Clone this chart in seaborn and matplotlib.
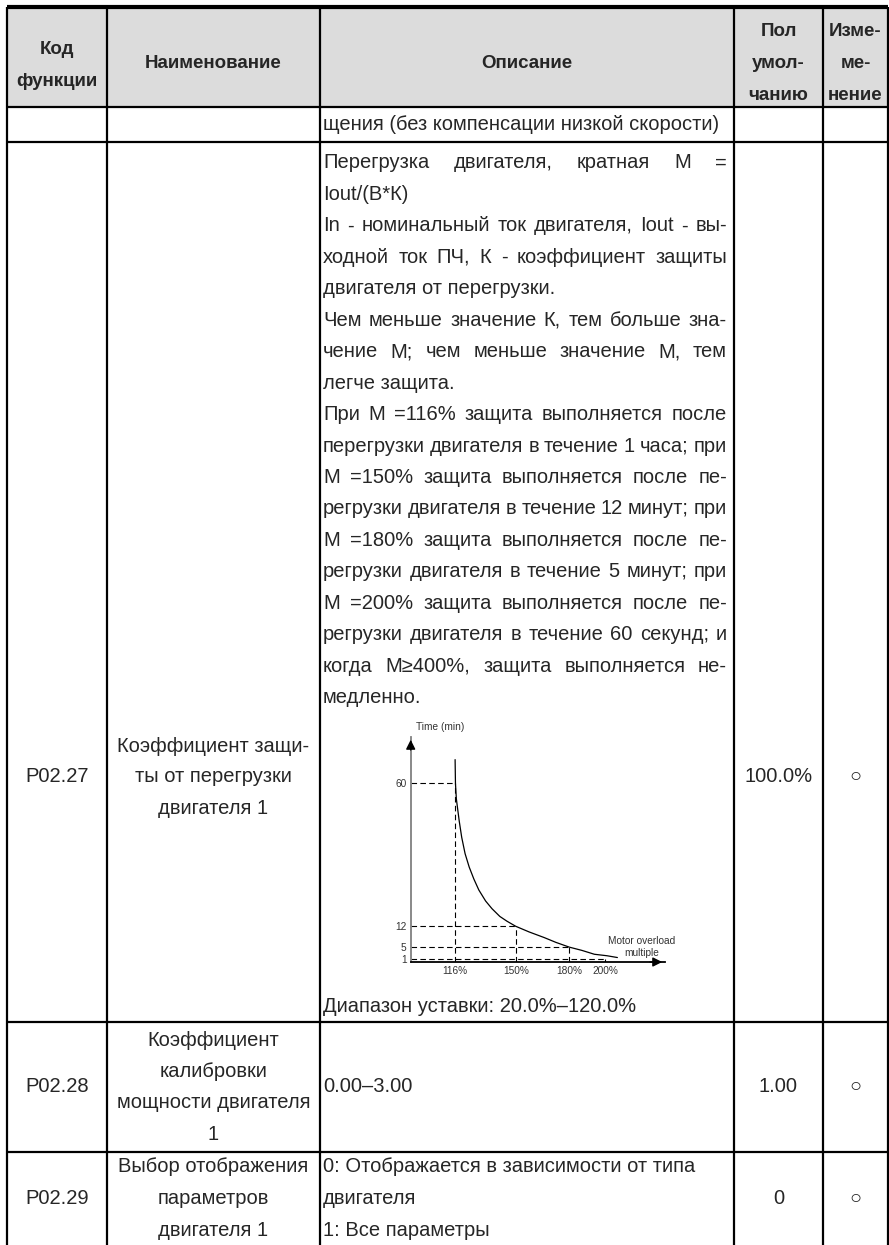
import matplotlib
matplotlib.use("Agg")
import matplotlib.pyplot as plt
import pandas as pd
import seaborn as sns

# --- data -------------------------------------------------------------
header = ["Код\nфункции", "Наименование", "Описание", "Пол\nумол-\nчанию", "Изме-\nме-\nнение"]

codes = ["P02.27", "P02.28", "P02.29"]
names = [["Коэффициент защи-", "ты от перегрузки", "двигателя 1"],
         ["Коэффициент", "калибровки", "мощности двигателя", "1"],
         ["Выбор отображения", "параметров", "двигателя 1"]]
defaults = ["100.0%", "1.00", "0"]
changes = ["○", "○", "○"]

carry_line = "щения (без компенсации низкой скорости)"
desc_p27 = [("Перегрузка двигателя, кратная М =", True),
            ("Iout/(В*К)", False),
            ("In - номинальный ток двигателя, Iout - вы-", True),
            ("ходной ток ПЧ, К - коэффициент защиты", True),
            ("двигателя от перегрузки.", False),
            ("Чем меньше значение К, тем больше зна-", True),
            ("чение М; чем меньше значение М, тем", True),
            ("легче защита.", False),
            ("При М =116% защита выполняется после", True),
            ("перегрузки двигателя в течение 1 часа; при", True),
            ("М =150% защита выполняется после пе-", True),
            ("регрузки двигателя в течение 12 минут; при", True),
            ("М =180% защита выполняется после пе-", True),
            ("регрузки двигателя в течение 5 минут; при", True),
            ("М =200% защита выполняется после пе-", True),
            ("регрузки двигателя в течение 60 секунд; и", True),
            ("когда М≥400%, защита выполняется не-", True),
            ("медленно.", False)]
range_p27 = "Диапазон уставки: 20.0%–120.0%"
desc_p28 = ["0.00–3.00"]
desc_p29 = ["0: Отображается в зависимости от типа", "двигателя", "1: Все параметры"]

# overload curve (multiple in %, time in min)
curve_mult = [116.0, 116.1, 116.2, 116.7, 118.3, 119.7, 121.6, 123.9, 126.5, 129.3,
              133.1, 136.7, 141.1, 145.1, 150.0, 157.5, 166.0, 172.5, 180.0, 187.1,
              194.1, 201.2, 207.0]
curve_time = [68.0, 64.0, 60.0, 54.8, 47.4, 41.9, 36.4, 31.9, 27.9, 24.2,
              20.5, 17.9, 15.3, 13.7, 12.0, 10.1, 8.2, 6.6, 5.0, 3.9,
              2.6, 2.1, 1.5]
mark_mult = [116, 150, 180, 200]
mark_time = [60, 12, 5, 1]
mult_labels = ["116%", "150%", "180%", "200%"]

# --- figure -----------------------------------------------------------
sns.set_theme(style="white")
plt.rcParams['font.family'] = ['Liberation Sans', 'DejaVu Sans']

W, H = 889, 1245
fig = plt.figure(figsize=(W / 100, H / 100), dpi=100)
ax = fig.add_axes([0, 0, 1, 1])
ax.set_xlim(0, W)
ax.set_ylim(H, 0)
ax.axis('off')
r = fig.canvas.get_renderer()

fs = 14.5
hfs = 13.5
lw = 1.6

cols = [7, 107, 320, 734, 823, 888]
xc = [(a + b) / 2 for a, b in zip(cols[:-1], cols[1:])]
x0, x1 = 323, 727

# header background + grid
ax.fill_between([cols[0], cols[-1]], 7, 107, color='#dcdcdc', lw=0)
ax.hlines(7, cols[0], cols[-1], color='black', lw=3)
for yy in [107, 142, 1022, 1152]:
    ax.hlines(yy, cols[0], cols[-1], color='black', lw=lw)
for xx in cols:
    ax.vlines(xx, 7, H, color='black', lw=lw)

# header text
head_y = [[49, 81], [64], [64], [32, 64, 96], [32, 64, 96]]
for i, h in enumerate(header):
    for line, yy in zip(h.split('\n'), head_y[i]):
        ax.text(xc[i], yy, line, ha='center', va='center', fontsize=hfs, fontweight='bold')

def body(x, y, s, ha='left'):
    ax.text(x, y, s, ha=ha, va='center', fontsize=fs)

def justify(y, s):
    words = s.split(' ')
    widths = []
    for w in words:
        t = ax.text(0, 0, w, fontsize=fs)
        widths.append(t.get_window_extent(r).width)
        t.remove()
    gap = (x1 - x0 - sum(widths)) / (len(words) - 1)
    x = x0
    for w, wd in zip(words, widths):
        body(x, y, w)
        x += wd + gap

body(x0, 125, carry_line)

# P02.27
for i, (s, just) in enumerate(desc_p27):
    y = 163 + 31.45 * i
    if just:
        justify(y, s)
    else:
        body(x0, y, s)
body(x0, 1007, range_p27)
body(xc[0], 777, codes[0], 'center')
for i, s in enumerate(names[0]):
    body(xc[1], 746 + 31 * i, s, 'center')
body(xc[3], 777, defaults[0], 'center')
body(xc[4], 777, changes[0], 'center')

# P02.28
body(xc[0], 1087, codes[1], 'center')
for i, s in enumerate(names[1]):
    body(xc[1], 1040 + 31.5 * i, s, 'center')
body(x0, 1087, desc_p28[0])
body(xc[3], 1087, defaults[1], 'center')
body(xc[4], 1087, changes[1], 'center')

# P02.29
body(xc[0], 1198, codes[2], 'center')
for i, s in enumerate(names[2]):
    body(xc[1], 1167 + 31.5 * i, s, 'center')
for i, s in enumerate(desc_p29):
    body(x0, 1167 + 31.5 * i, s)
body(xc[3], 1198, defaults[2], 'center')
body(xc[4], 1198, changes[2], 'center')

# --- embedded overload sketch ------------------------------------------
cx = fig.add_axes([410.7 / W, (H - 962) / H, (665 - 410.7) / W, (962 - 737) / H])
cx.set_facecolor('none')
cx.set_xlim(91.1, 233.7)
cx.set_ylim(0, 75.6)

df = pd.DataFrame({'mult': curve_mult, 'time': curve_time})
sns.lineplot(data=df, x='mult', y='time', ax=cx, color='black', lw=0.9,
             sort=False, estimator=None)

xmin = cx.get_xlim()[0]
for m, t in zip(mark_mult, mark_time):
    cx.hlines(t, xmin, m, color='black', lw=0.8, linestyles=(0, (5, 3)))
    cx.vlines(m, 0, t, color='black', lw=0.8, linestyles=(0, (5, 3)))

for side in ['top', 'right']:
    cx.spines[side].set_visible(False)
cx.spines['left'].set_color('#808080')
cx.spines['left'].set_linewidth(1.3)
cx.spines['bottom'].set_color('black')
cx.spines['bottom'].set_linewidth(1.3)
cx.annotate('', xy=(0, 1), xytext=(0, 0.93), xycoords='axes fraction',
            arrowprops=dict(arrowstyle='-|>', color='black', lw=1, mutation_scale=14))
cx.annotate('', xy=(1, 0), xytext=(0.93, 0), xycoords='axes fraction',
            arrowprops=dict(arrowstyle='-|>', color='black', lw=1, mutation_scale=14))

cx.set_yticks(mark_time)
cx.set_yticklabels([str(t) for t in mark_time])
cx.set_xticks(mark_mult)
cx.set_xticklabels(mult_labels)
cx.tick_params(length=0, labelsize=7.3, labelcolor='#333333', pad=3)
cx.set_xlabel('')
cx.set_ylabel('')
cx.text(0.115, 1.045, 'Time (min)', transform=cx.transAxes, ha='center', va='center',
        fontsize=7.3, color='#333333')
cx.text(0.91, 0.095, 'Motor overload', transform=cx.transAxes, ha='center', va='center',
        fontsize=7.3, color='#333333')
cx.text(0.91, 0.04, 'multiple', transform=cx.transAxes, ha='center', va='center',
        fontsize=7.3, color='#333333')

fig.savefig("out.png", dpi=100)
